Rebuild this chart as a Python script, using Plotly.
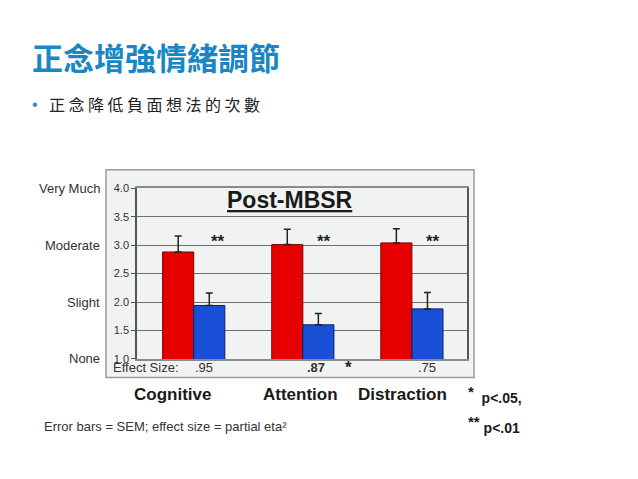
import plotly.graph_objects as go

# ---- data ----
categories = ["Cognitive", "Attention", "Distraction"]
red_values = [2.88, 3.01, 3.04]
red_sem = [0.28, 0.27, 0.25]
blue_values = [1.94, 1.60, 1.88]
blue_sem = [0.22, 0.20, 0.29]
effect_sizes = [".95", "<b>.87</b>", ".75"]
significance = ["**", "**", "**"]
y_ticks = [1.0, 1.5, 2.0, 2.5, 3.0, 3.5, 4.0]
scale_labels = ["None", "Slight", "Moderate", "Very Much"]
scale_values = [1.0, 2.0, 3.0, 4.0]

W, H = 638, 479
def px(x):
    return x / W
def py(y):
    return 1 - y / H

FONT = "Liberation Sans, Arial, sans-serif"
CJK = "Noto Sans CJK TC, Noto Sans CJK SC, sans-serif"

fig = go.Figure()
fig.add_trace(go.Bar(
    x=categories, y=red_values, name="red",
    marker=dict(color="#e60000", line=dict(color="#7a0000", width=1)),
    error_y=dict(type="data", symmetric=False, array=red_sem,
                 arrayminus=[0] * len(red_sem), color="#222222",
                 thickness=1.5, width=3.5),
))
fig.add_trace(go.Bar(
    x=categories, y=blue_values, name="blue",
    marker=dict(color="#1a4fd8", line=dict(color="#0b1f6a", width=1)),
    error_y=dict(type="data", symmetric=False, array=blue_sem,
                 arrayminus=[0] * len(blue_sem), color="#222222",
                 thickness=1.5, width=3.5),
))

annotations = []
# slide title and bullet
annotations.append(dict(text="<b>正念增強情緒調節</b>", xref="paper", yref="paper",
                        x=px(30), y=py(52), xanchor="left", yanchor="middle",
                        showarrow=False, font=dict(family=CJK, size=31, color="#1a87c4")))
annotations.append(dict(text="•", xref="paper", yref="paper",
                        x=px(30), y=py(101), xanchor="left", yanchor="middle",
                        showarrow=False, font=dict(family=FONT, size=16, color="#2e8fcf")))
annotations.append(dict(text='<span style="letter-spacing:3.5px">正念降低負面想法的次數</span>',
                        xref="paper", yref="paper",
                        x=px(47), y=py(101), xanchor="left", yanchor="middle",
                        showarrow=False, font=dict(family=CJK, size=16, color="#222222")))

# chart title
annotations.append(dict(text="<b><u>Post-MBSR</u></b>", xref="paper", yref="paper",
                        x=px(290), y=py(199), xanchor="center", yanchor="middle",
                        showarrow=False, font=dict(family=FONT, size=23, color="#1a1a1a")))

# scale labels
for lab, val in zip(scale_labels, scale_values):
    annotations.append(dict(text=lab, xref="paper", yref="y", x=px(102), y=val,
                            xanchor="right", yanchor="middle", showarrow=False,
                            font=dict(family=FONT, size=13, color="#333333")))

# significance stars
star_shift = [24, 21, 21]
for c, s, sh in zip(categories, significance, star_shift):
    annotations.append(dict(text="<b>" + s + "</b>", xref="x", yref="y", x=c, y=3.07,
                            xshift=sh, xanchor="center", yanchor="middle", showarrow=False,
                            font=dict(family=FONT, size=17, color="#222222")))

# effect size row
annotations.append(dict(text="Effect Size:", xref="paper", yref="paper", x=px(111), y=py(371),
                        xanchor="left", yanchor="middle", showarrow=False,
                        font=dict(family=FONT, size=13, color="#333333")))
es_shift = [10, 13, 15]
for c, e, sh in zip(categories, effect_sizes, es_shift):
    annotations.append(dict(text=e, xref="x", yref="paper", x=c, y=py(371), xshift=sh,
                            xanchor="center", yanchor="middle", showarrow=False,
                            font=dict(family=FONT, size=13, color="#333333")))
annotations.append(dict(text="<b>*</b>", xref="x", yref="paper", x=categories[1], y=py(371),
                        xshift=46, xanchor="center", yanchor="middle", showarrow=False,
                        font=dict(family=FONT, size=17, color="#222222")))

# category labels
cat_shift = [-21, -2, -9]
for c, sh in zip(categories, cat_shift):
    annotations.append(dict(text="<b>" + c + "</b>", xref="x", yref="paper", x=c, y=py(398),
                            xshift=sh, xanchor="center", yanchor="middle", showarrow=False,
                            font=dict(family=FONT, size=17, color="#1a1a1a")))

# footnotes
annotations.append(dict(text='<b><sup><span style="font-size:15px">*</span></sup>&nbsp;&nbsp;p<.05,</b>',
                        xref="paper", yref="paper",
                        x=px(466), y=py(398), xanchor="left", yanchor="middle", showarrow=False,
                        font=dict(family=FONT, size=14, color="#1a1a1a")))
annotations.append(dict(text='<b><sup><span style="font-size:15px">**</span></sup>&nbsp;p<.01</b>',
                        xref="paper", yref="paper",
                        x=px(466), y=py(429), xanchor="left", yanchor="middle", showarrow=False,
                        font=dict(family=FONT, size=14, color="#1a1a1a")))
annotations.append(dict(text="Error bars = SEM; effect size = partial eta²", xref="paper",
                        yref="paper", x=px(42), y=py(431), xanchor="left", yanchor="middle",
                        showarrow=False, font=dict(family=FONT, size=13, color="#333333")))

shapes = [dict(type="rect", xref="paper", yref="paper", x0=px(106), x1=px(474),
               y0=py(381), y1=py(168), line=dict(color="#9a9a9a", width=1.5),
               fillcolor="#f1f2f2", layer="below")]

fig.update_layout(
    width=W, height=H,
    margin=dict(l=0, r=0, t=0, b=0),
    paper_bgcolor="white",
    plot_bgcolor="#e6e7e7",
    showlegend=False,
    barmode="group", bargap=0.43, bargroupgap=0,
    annotations=annotations, shapes=shapes,
    xaxis=dict(domain=[px(137), px(467)], range=[-0.52, 2.505], showticklabels=False,
               showgrid=False, showline=True, linecolor="#8a8a8a", linewidth=1.5,
               mirror=True, ticks="", zeroline=False),
    yaxis=dict(domain=[py(362), py(187)], range=[1, 4], tickvals=y_ticks,
               ticktext=["%.1f" % v for v in y_ticks], showgrid=True,
               gridcolor="#6e6e6e", gridwidth=1, showline=True, linecolor="#555555",
               linewidth=1.5, mirror=True, ticks="outside", ticklen=4,
               tickcolor="#555555", tickfont=dict(family=FONT, size=11, color="#333333"),
               zeroline=False),
)

fig.write_html(
    "out.html",
    config={"displayModeBar": False},
    post_script="document.body.style.margin='0';document.body.style.overflow='hidden';",
)
